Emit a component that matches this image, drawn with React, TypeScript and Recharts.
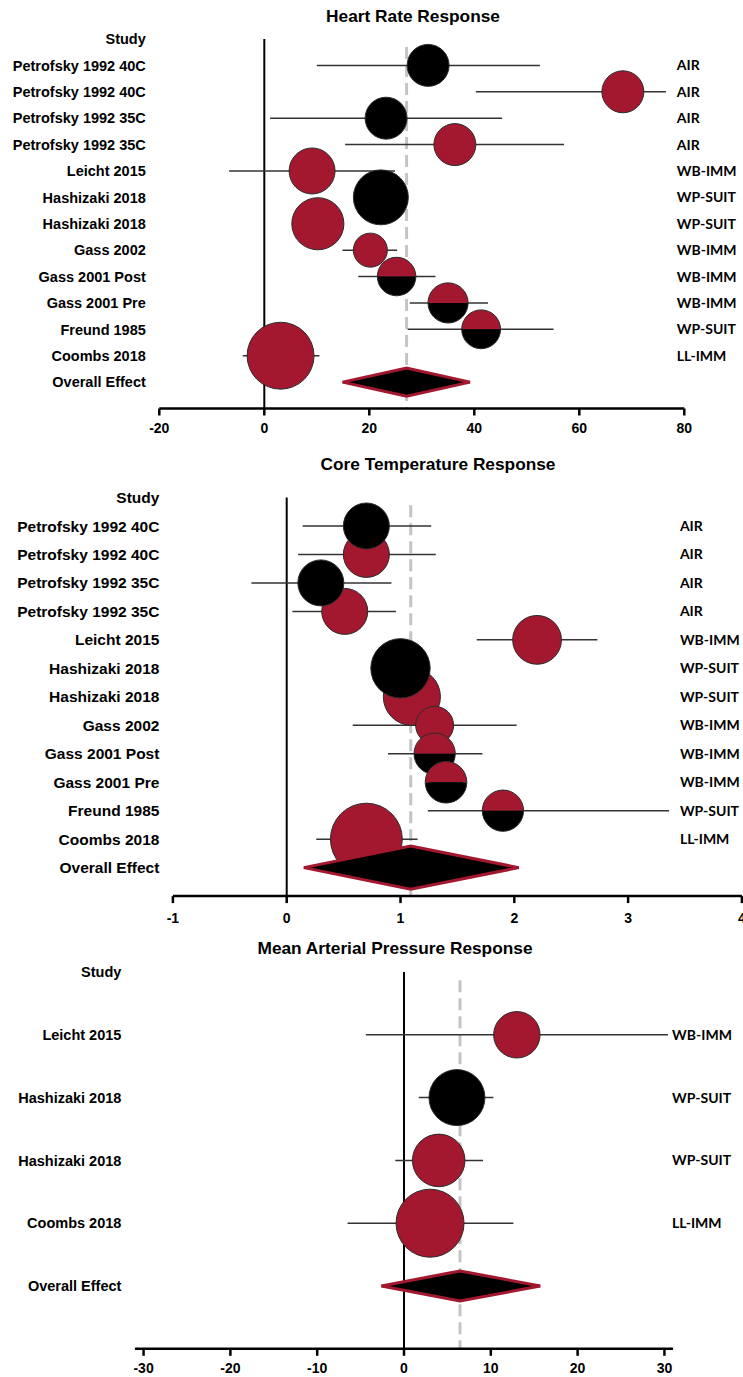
import React from "react";
import {
  ComposedChart,
  Scatter,
  Area,
  XAxis,
  YAxis,
  ZAxis,
  ErrorBar,
  ReferenceLine,
} from "recharts";

const RED = "#A3182E";
const LABEL_FONT = '"Liberation Sans", Arial, sans-serif';
const SIDE_FONT = 'Lato, "Open Sans", sans-serif';

// ---- Heart rate (bpm) ----
const hrStudies = [
  "Petrofsky 1992 40C", "Petrofsky 1992 40C", "Petrofsky 1992 35C", "Petrofsky 1992 35C",
  "Leicht 2015", "Hashizaki 2018", "Hashizaki 2018", "Gass 2002",
  "Gass 2001 Post", "Gass 2001 Pre", "Freund 1985", "Coombs 2018",
];
const hrCondition = ["AIR", "AIR", "AIR", "AIR", "WB-IMM", "WP-SUIT", "WP-SUIT", "WB-IMM", "WB-IMM", "WB-IMM", "WP-SUIT", "LL-IMM"];
const hrCohort = ["M", "F", "M", "F", "F", "M", "F", "F", "FM", "FM", "FM", "F"];
const hrEffect = [31.2, 68.3, 23.2, 36.3, 9.1, 22.2, 10.2, 20.2, 25.2, 35.0, 41.3, 3.1];
const hrLow = [10.0, 40.3, 1.1, 15.4, -6.7, 18.5, 6.8, 14.9, 17.9, 27.7, 27.3, -4.1];
const hrHigh = [52.5, 76.5, 45.3, 57.1, 24.9, 25.9, 13.6, 25.3, 32.6, 42.6, 55.1, 10.5];
const hrWeight = [7.0, 7.0, 7.0, 7.0, 8.4, 12.0, 10.8, 4.6, 5.9, 6.4, 6.0, 17.8];
const hrPooled = { est: 27.1, low: 14.9, high: 39.2 };
const hrTicks = [-20, 0, 20, 40, 60, 80];

// ---- Core temperature (C) ----
const ctStudies = hrStudies;
const ctCondition = hrCondition;
const ctCohort = hrCohort;
const ctEffect = [0.70, 0.70, 0.30, 0.51, 2.20, 1.00, 1.10, 1.30, 1.30, 1.40, 1.90, 0.70];
const ctLow = [0.14, 0.10, -0.31, 0.05, 1.67, 0.80, 0.90, 0.58, 0.89, 1.25, 1.24, 0.26];
const ctHigh = [1.27, 1.31, 0.92, 0.96, 2.73, 1.20, 1.30, 2.02, 1.72, 1.55, 3.36, 1.15];
const ctWeight = [7.2, 7.2, 7.2, 7.2, 8.1, 12.0, 11.1, 4.9, 5.8, 5.9, 5.8, 17.6];
const ctPooled = { est: 1.09, low: 0.15, high: 2.04 };
const ctTicks = [-1, 0, 1, 2, 3, 4];

// ---- Mean arterial pressure (mmHg) ----
const mapStudies = ["Leicht 2015", "Hashizaki 2018", "Hashizaki 2018", "Coombs 2018"];
const mapCondition = ["WB-IMM", "WP-SUIT", "WP-SUIT", "LL-IMM"];
const mapCohort = ["F", "M", "F", "F"];
const mapEffect = [13.0, 6.1, 4.0, 3.0];
const mapLow = [-4.4, 1.7, -1.0, -6.5];
const mapHigh = [30.4, 10.3, 9.1, 12.6];
const mapWeight = [17.0, 24.7, 21.8, 36.5];
const mapPooled = { est: 6.45, low: -2.6, high: 15.7 };
const mapTicks = [-30, -20, -10, 0, 10, 20, 30];

const Marker = (props: any) => {
  const { cx, cy, width, size, payload } = props;
  const r = width ? width / 2 : Math.sqrt((size || 0) / Math.PI);
  if (payload.cohort === "FM") {
    return (
      <g>
        <path d={`M${cx - r},${cy} A${r},${r} 0 0 1 ${cx + r},${cy} Z`} fill={RED} />
        <path d={`M${cx - r},${cy} A${r},${r} 0 0 0 ${cx + r},${cy} Z`} fill="#000" />
        <circle cx={cx} cy={cy} r={r} fill="none" stroke="#2b2b2b" strokeWidth={1} />
      </g>
    );
  }
  return (
    <circle cx={cx} cy={cy} r={r} fill={payload.cohort === "M" ? "#000" : RED} stroke="#2b2b2b" strokeWidth={1} />
  );
};

type PanelProps = {
  title: string;
  titleX: number;
  titleY: number;
  top: number;
  height: number;
  studies: string[];
  condition: string[];
  cohort: string[];
  effect: number[];
  low: number[];
  high: number[];
  weight: number[];
  pooled: { est: number; low: number; high: number };
  ticks: number[];
  domain: [number, number];
  marginTop: number;
  leftW: number;
  rightW: number;
  axisH: number;
  areaK: number;
  diamondH: number;
  dashStart: number;
  rightShift: number;
  fontSize: number;
  tickGap: number;
};

const Panel = (p: PanelProps) => {
  const rows = p.studies.map((s, i) => ({
    x: p.effect[i],
    row: i + 1,
    w: p.weight[i],
    err: [p.effect[i] - p.low[i], p.high[i] - p.effect[i]],
    cohort: p.cohort[i],
  }));
  const overallRow = p.studies.length + 1;
  const leftLabels = ["Study", ...p.studies, "Overall Effect"];
  const rightLabels = ["", ...p.condition, ""];
  const rowTicks = leftLabels.map((_, i) => i);
  const diamond = [
    { x: p.pooled.low, band: [overallRow, overallRow] },
    { x: p.pooled.est, band: [overallRow - p.diamondH, overallRow + p.diamondH] },
    { x: p.pooled.high, band: [overallRow, overallRow] },
  ];
  const yDomain: [number, number] = [0, overallRow + 1];

  const leftTick = (t: any) => (
    <text
      x={t.x - 13.5}
      y={t.y}
      dy="0.36em"
      textAnchor="end"
      fontFamily={LABEL_FONT}
      fontWeight={700}
      fontSize={p.fontSize}
      fill="#000"
    >
      {leftLabels[t.payload.value]}
    </text>
  );
  const rightTick = (t: any) => (
    <text
      x={t.x + p.rightShift}
      y={t.y}
      dy="0.36em"
      textAnchor="start"
      fontFamily={SIDE_FONT}
      fontWeight={700}
      fontSize={14}
      fill="#000"
    >
      {rightLabels[t.payload.value]}
    </text>
  );

  const groups = ["F", "FM", "M"];

  return (
    <div style={{ position: "absolute", left: 0, top: p.top, width: 743, height: p.height }}>
      <div
        style={{
          position: "absolute",
          left: 0,
          top: p.titleY - 10,
          width: p.titleX * 2,
          textAlign: "center",
          fontFamily: LABEL_FONT,
          fontWeight: 700,
          fontSize: 17.3,
          lineHeight: "20px",
          color: "#000",
          zIndex: 2,
        }}
      >
        {p.title}
      </div>
      <ComposedChart
        width={743}
        height={p.height}
        margin={{ top: p.marginTop, right: 0, bottom: 0, left: 0 }}
        style={{ fontFamily: LABEL_FONT }}
      >
        <XAxis
          type="number"
          dataKey="x"
          domain={p.domain}
          ticks={p.ticks}
          interval={0}
          allowDataOverflow
          height={p.axisH}
          axisLine={{ stroke: "#000", strokeWidth: 2.5 }}
          tickLine={{ stroke: "#000", strokeWidth: 2.5 }}
          tickSize={7}
          tickMargin={p.tickGap}
          tick={{ fill: "#000", fontSize: 14, fontWeight: 700, fontFamily: LABEL_FONT }}
        />
        <YAxis
          yAxisId="left"
          type="number"
          dataKey="row"
          domain={yDomain}
          reversed
          allowDataOverflow
          ticks={rowTicks}
          interval={0}
          width={p.leftW}
          axisLine={false}
          tickLine={false}
          tickSize={0}
          tickMargin={0}
          tick={leftTick}
        />
        <YAxis
          yAxisId="right"
          orientation="right"
          type="number"
          dataKey="row"
          domain={yDomain}
          reversed
          allowDataOverflow
          ticks={rowTicks}
          interval={0}
          width={p.rightW}
          axisLine={false}
          tickLine={false}
          tickSize={0}
          tickMargin={0}
          tick={rightTick}
        />
        <ZAxis type="number" dataKey="w" domain={[0, 100]} range={[0, Math.PI * p.areaK]} />
        <ReferenceLine
          yAxisId="left"
          segment={[{ x: 0, y: 0 }, { x: 0, y: overallRow + 1 }]}
          stroke="#000"
          strokeWidth={2}
          zIndex={50}
        />
        <ReferenceLine
          yAxisId="left"
          segment={[{ x: p.pooled.est, y: p.dashStart }, { x: p.pooled.est, y: overallRow + 1 }]}
          stroke="#c4c4c4"
          strokeWidth={3}
          strokeDasharray="12 6"
          zIndex={50}
        />
        {groups.map((g) => (
          <Scatter
            key={g}
            yAxisId="left"
            data={rows.filter((r) => r.cohort === g)}
            shape={Marker}
            isAnimationActive={false}
          >
            <ErrorBar dataKey="err" direction="x" width={0} stroke="#333" strokeWidth={1.5} />
          </Scatter>
        ))}
        <Area
          yAxisId="left"
          data={diamond}
          dataKey="band"
          type="linear"
          fill="#000"
          fillOpacity={1}
          stroke={RED}
          strokeWidth={3}
          dot={false}
          activeDot={false}
          isAnimationActive={false}
          zIndex={700}
        />
      </ComposedChart>
    </div>
  );
};

export default function App() {
  return (
    <div style={{ position: "absolute", left: 0, top: 0, width: 743, height: 1377, background: "#fff" }}>
      <Panel
        title="Heart Rate Response"
        titleX={413}
        titleY={16}
        top={0}
        height={440}
        studies={hrStudies}
        condition={hrCondition}
        cohort={hrCohort}
        effect={hrEffect}
        low={hrLow}
        high={hrHigh}
        weight={hrWeight}
        pooled={hrPooled}
        ticks={hrTicks}
        domain={[-20, 80]}
        marginTop={39}
        leftW={159.3}
        rightW={58.7}
        axisH={31.5}
        areaK={6288}
        diamondH={0.53}
        dashStart={0.3}
        rightShift={-7.5}
        fontSize={14.5}
        tickGap={8}
      />
      <Panel
        title="Core Temperature Response"
        titleX={438}
        titleY={24}
        top={440}
        height={490}
        studies={ctStudies}
        condition={ctCondition}
        cohort={ctCohort}
        effect={ctEffect}
        low={ctLow}
        high={ctHigh}
        weight={ctWeight}
        pooled={ctPooled}
        ticks={ctTicks}
        domain={[-1, 4]}
        marginTop={57.5}
        leftW={172.9}
        rightW={1.1}
        axisH={33.9}
        areaK={7343}
        diamondH={0.76}
        dashStart={0.27}
        rightShift={-62}
        fontSize={15.5}
        tickGap={10}
      />
      <Panel
        title="Mean Arterial Pressure Response"
        titleX={395}
        titleY={18}
        top={930}
        height={447}
        studies={mapStudies}
        condition={mapCondition}
        cohort={mapCohort}
        effect={mapEffect}
        low={mapLow}
        high={mapHigh}
        weight={mapWeight}
        pooled={mapPooled}
        ticks={mapTicks}
        domain={[-31, 31]}
        marginTop={42}
        leftW={134.9}
        rightW={69.9}
        axisH={28.2}
        areaK={3170}
        diamondH={0.24}
        dashStart={0.13}
        rightShift={-1}
        fontSize={14.5}
        tickGap={7}
      />
    </div>
  );
}
